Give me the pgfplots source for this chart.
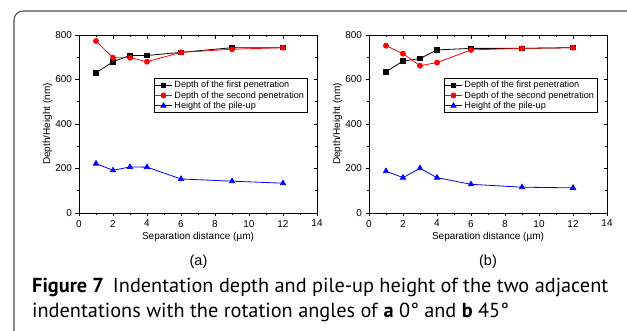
\documentclass[border=0pt]{standalone}
\usepackage{fontspec}
\setmainfont{Liberation Sans}
\newfontfamily\capfont{PT Sans}
\usepackage{pgfplots}
\pgfplotsset{compat=1.18}
\pgfplotstableread{
x a1 a2 a3
1 630 773 222
2 680 698 192
3 708 698 207
4 708 680 206
6 722 722 153
9 743 736 143
12 743 743 134
}\dataA
\pgfplotstableread{
x b1 b2 b3
1 635 752 188
2 683 716 159
3 694 662 201
4 733 676 159
6 740 733 129
9 740 740 116
12 743 743 113
}\dataB
\pgfplotsset{
  base/.style={
    width=238pt, height=178pt, scale only axis,
    xmin=0, xmax=14, ymin=0, ymax=800,
    xtick={0,2,...,14}, ytick={0,200,...,800},
    minor x tick num=1, minor y tick num=1,
    major tick length=3.5pt, minor tick length=2pt,
    axis line style={line width=0.9pt},
    every tick/.style={line width=0.8pt, black},
    /pgf/number format/assume math mode=true,
    ticklabel style={font=\fontsize{10}{11}\selectfont},
    anchor=south west,
  },
  mainax/.style={
    base,
    xtick pos=left, ytick pos=left, tick align=outside,
    xlabel={Separation distance (µm)},
    ylabel={Depth/Height (nm)},
    label style={font=\fontsize{10}{11}\selectfont},
    xlabel style={at={(axis description cs:0.5,-0.135)}, anchor=center},
    ylabel style={at={(axis description cs:-0.132,0.5)}, anchor=center},
    legend cell align=left,
    legend style={at={(0.958,0.758)}, anchor=north east, draw=black, line width=0.5pt,
      font=\fontsize{9.1}{10}\selectfont, inner sep=0.8pt, row sep=-1.8pt},
    legend image post style={line width=0.8pt},
  },
  overax/.style={
    base,
    xtick pos=right, ytick pos=right, tick align=inside,
    xticklabels={}, yticklabels={},
  },
  s1/.style={black, line width=0.8pt, mark=square*, mark size=2.2pt, mark options={solid}},
  s2/.style={red, line width=0.8pt, mark=*, mark size=2.5pt},
  s3/.style={blue, line width=0.8pt, mark=triangle*, mark size=3pt},
}
\begin{document}
\begin{tikzpicture}[x=1pt,y=1pt]
\useasboundingbox (0,0) rectangle (627,-331);
\draw[line width=1.1pt, color=black!70, rounded corners=9pt] (14,-345) -- (14,-11) -- (650,-11);
% (a)
\begin{axis}[mainax, at={(79pt,-213pt)}]
\addplot[s1] table[x=x,y=a1] {\dataA};
\addplot[s2] table[x=x,y=a2] {\dataA};
\addplot[s3] table[x=x,y=a3] {\dataA};
\legend{Depth of the first penetration, Depth of the second penetration, Height of the pile-up}
\end{axis}
\begin{axis}[overax, at={(79pt,-213pt)}]
\end{axis}
% (b)
\begin{axis}[mainax, at={(369pt,-213pt)}]
\addplot[s1] table[x=x,y=b1] {\dataB};
\addplot[s2] table[x=x,y=b2] {\dataB};
\addplot[s3] table[x=x,y=b3] {\dataB};
\legend{Depth of the first penetration, Depth of the second penetration, Height of the pile-up}
\end{axis}
\begin{axis}[overax, at={(369pt,-213pt)}]
\end{axis}
\node[font=\fontsize{14.5}{16}\selectfont] at (198.5,-262) {(a)};
\node[font=\fontsize{14.5}{16}\selectfont] at (488,-262) {(b)};
\node[anchor=base west, inner sep=0pt, font=\capfont\fontsize{20.3}{22}\selectfont] at (32,-293)
  {\textbf{Figure 7}\hspace{0.45em}Indentation depth and pile-up height of the two adjacent};
\node[anchor=base west, inner sep=0pt, font=\capfont\fontsize{20.3}{22}\selectfont] at (32,-318)
  {indentations with the rotation angles of \textbf{a} 0° and \textbf{b} 45°};
\end{tikzpicture}
\end{document}
